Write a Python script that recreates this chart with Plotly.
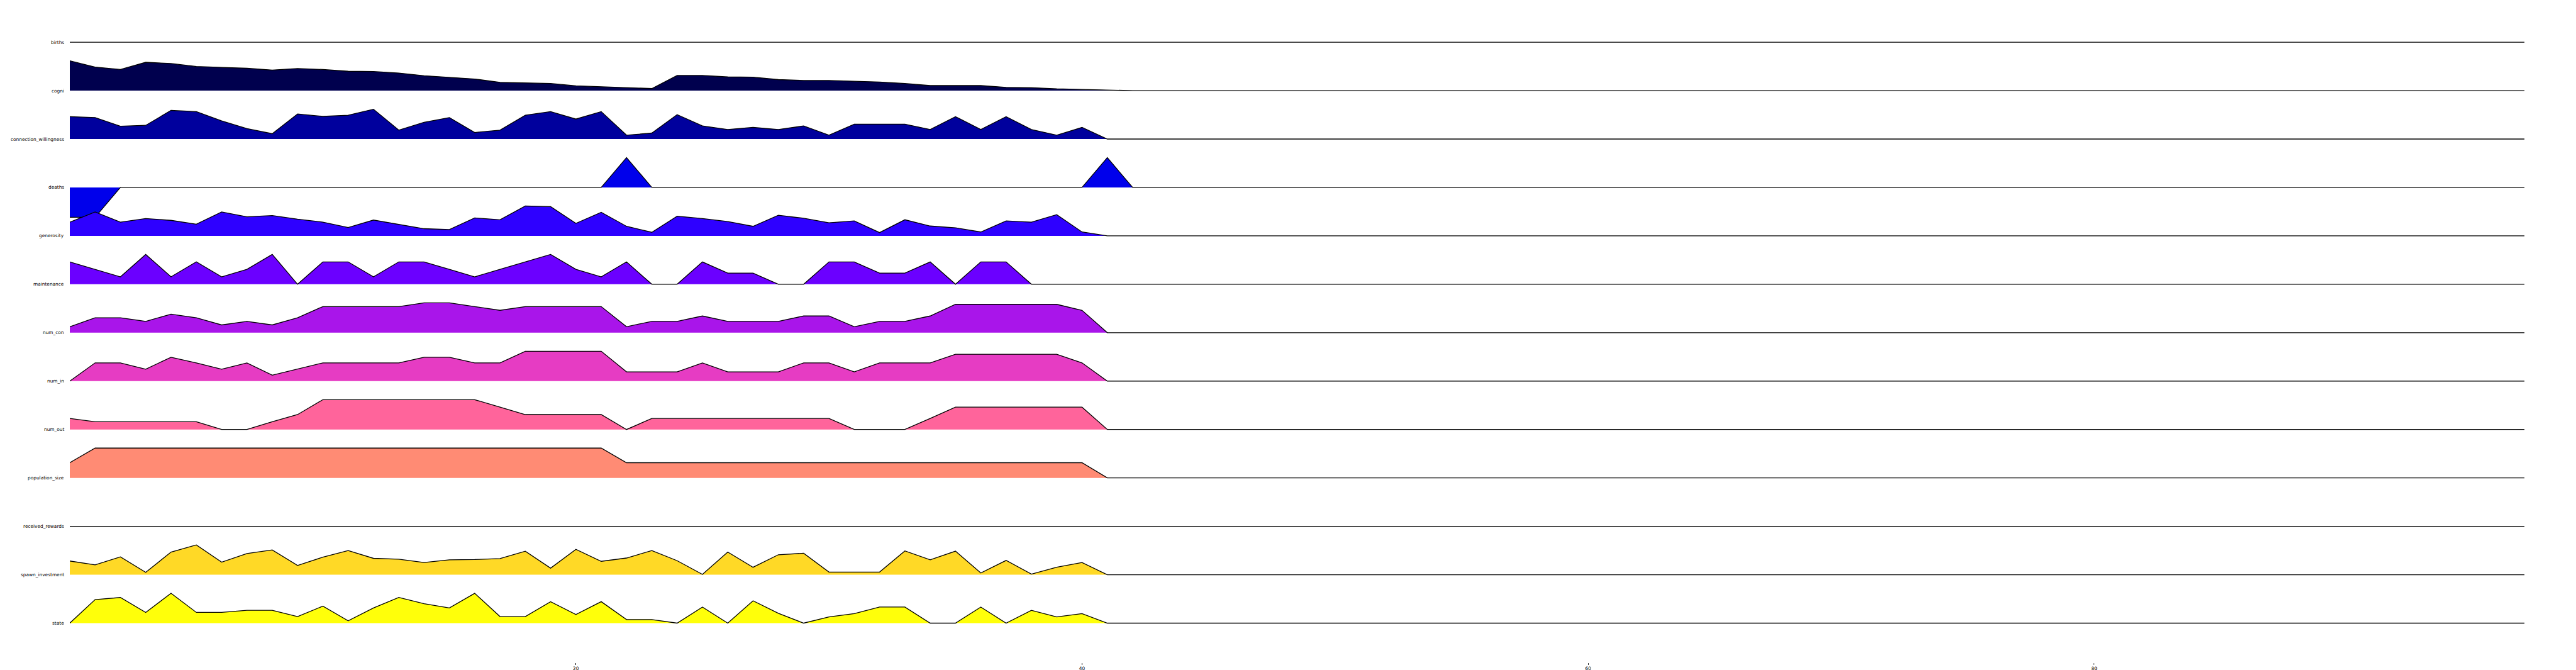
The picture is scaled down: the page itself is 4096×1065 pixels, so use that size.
import plotly.graph_objects as go

# ---------------- data (values normalised per row) ----------------
labels = ["births", "cogni", "connection_willingness", "deaths", "generosity",
          "maintenance", "num_con", "num_in", "num_out", "population_size",
          "received_rewards", "spawn_investment", "state"]

colors = ["#000000", "#00004e", "#00009d", "#0000eb", "#2e00ff", "#6b00ff",
          "#a915ea", "#e63cc3", "#ff649b", "#ff8b74", "#ffb24d", "#ffd926", "#ffff0a"]

n_steps = 98
steps = list(range(n_steps))
tick_vals = [20, 40, 60, 80]

births = [0.0] * 42

cogni = [1.00, 0.79, 0.71, 0.95, 0.91, 0.81, 0.78, 0.75, 0.69, 0.74, 0.71, 0.65, 0.64, 0.59,
         0.50, 0.44, 0.39, 0.28, 0.26, 0.24, 0.16, 0.13, 0.09, 0.07, 0.51, 0.51, 0.46, 0.45,
         0.37, 0.34, 0.34, 0.32, 0.29, 0.24, 0.17, 0.17, 0.17, 0.11, 0.10, 0.06, 0.04, 0.02]

connection_willingness = [0.75, 0.72, 0.43, 0.46, 0.96, 0.92, 0.61, 0.35, 0.18, 0.84, 0.76, 0.80, 1.00, 0.30,
                          0.56, 0.72, 0.22, 0.30, 0.80, 0.92, 0.67, 0.92, 0.13, 0.20, 0.82, 0.44, 0.32, 0.39,
                          0.32, 0.44, 0.13, 0.50, 0.50, 0.50, 0.32, 0.75, 0.32, 0.75, 0.32, 0.13, 0.39, 0.00]

deaths = [-1.0, -1.0, 0, 0, 0, 0, 0, 0, 0, 0, 0, 0, 0, 0,
          0, 0, 0, 0, 0, 0, 0, 0, 1.0, 0, 0, 0, 0, 0,
          0, 0, 0, 0, 0, 0, 0, 0, 0, 0, 0, 0, 0, 1.0]

generosity = [0.46, 0.80, 0.46, 0.58, 0.52, 0.39, 0.80, 0.64, 0.68, 0.56, 0.46, 0.28, 0.53, 0.39,
              0.24, 0.21, 0.60, 0.54, 1.00, 0.98, 0.42, 0.79, 0.32, 0.12, 0.66, 0.58, 0.48, 0.32,
              0.69, 0.59, 0.44, 0.50, 0.11, 0.54, 0.33, 0.27, 0.13, 0.50, 0.46, 0.71, 0.13, 0.00]

maintenance = [0.75, 0.50, 0.25, 1.00, 0.25, 0.75, 0.25, 0.50, 1.00, 0.00, 0.75, 0.75, 0.25, 0.75,
               0.75, 0.50, 0.25, 0.50, 0.75, 1.00, 0.50, 0.25, 0.75, 0.00, 0.00, 0.75, 0.375, 0.375,
               0.00, 0.00, 0.75, 0.75, 0.375, 0.375, 0.75, 0.00, 0.75, 0.75, 0.00, 0.00, 0.00, 0.00]

num_con = [0.20, 0.50, 0.50, 0.38, 0.62, 0.50, 0.26, 0.38, 0.26, 0.50, 0.875, 0.875, 0.875, 0.875,
           1.00, 1.00, 0.875, 0.75, 0.875, 0.875, 0.875, 0.875, 0.20, 0.38, 0.38, 0.56, 0.38, 0.38,
           0.38, 0.56, 0.56, 0.20, 0.38, 0.38, 0.56, 0.95, 0.95, 0.95, 0.95, 0.95, 0.75, 0.00]

num_in = [0.00, 0.61, 0.61, 0.40, 0.80, 0.61, 0.40, 0.61, 0.20, 0.40, 0.61, 0.61, 0.61, 0.61,
          0.80, 0.80, 0.61, 0.61, 1.00, 1.00, 1.00, 1.00, 0.31, 0.31, 0.31, 0.61, 0.31, 0.31,
          0.31, 0.61, 0.61, 0.31, 0.61, 0.61, 0.61, 0.90, 0.90, 0.90, 0.90, 0.90, 0.61, 0.00]

num_out = [0.37, 0.26, 0.26, 0.26, 0.26, 0.26, 0.00, 0.00, 0.26, 0.50, 1.00, 1.00, 1.00, 1.00,
           1.00, 1.00, 1.00, 0.75, 0.50, 0.50, 0.50, 0.50, 0.00, 0.37, 0.37, 0.37, 0.37, 0.37,
           0.37, 0.37, 0.37, 0.00, 0.00, 0.00, 0.37, 0.75, 0.75, 0.75, 0.75, 0.75, 0.75, 0.00]

population_size = [0.51, 1.00, 1.00, 1.00, 1.00, 1.00, 1.00, 1.00, 1.00, 1.00, 1.00, 1.00, 1.00, 1.00,
                   1.00, 1.00, 1.00, 1.00, 1.00, 1.00, 1.00, 1.00, 0.51, 0.51, 0.51, 0.51, 0.51, 0.51,
                   0.51, 0.51, 0.51, 0.51, 0.51, 0.51, 0.51, 0.51, 0.51, 0.51, 0.51, 0.51, 0.51, 0.00]

received_rewards = [0.0] * 42

spawn_investment = [0.46, 0.33, 0.60, 0.08, 0.76, 1.00, 0.42, 0.71, 0.83, 0.31, 0.59, 0.81, 0.55, 0.52,
                    0.41, 0.50, 0.51, 0.54, 0.79, 0.22, 0.85, 0.45, 0.56, 0.81, 0.47, 0.01, 0.76, 0.25,
                    0.67, 0.72, 0.09, 0.09, 0.09, 0.80, 0.50, 0.79, 0.06, 0.48, 0.02, 0.25, 0.41, 0.00]

state = [0.00, 0.79, 0.86, 0.36, 1.00, 0.36, 0.36, 0.43, 0.43, 0.22, 0.57, 0.08, 0.51, 0.86,
         0.65, 0.51, 1.00, 0.22, 0.22, 0.72, 0.29, 0.72, 0.12, 0.12, 0.00, 0.54, 0.00, 0.75,
         0.33, 0.00, 0.21, 0.32, 0.54, 0.54, 0.00, 0.00, 0.54, 0.00, 0.43, 0.21, 0.32, 0.00]

series = [births, cogni, connection_willingness, deaths, generosity, maintenance, num_con,
          num_in, num_out, population_size, received_rewards, spawn_investment, state]

# ---------------- figure ----------------
W, H = 4096, 1065
ML, MR, MT, MB = 103, 90, 0, 20
AMP = 0.616          # height of a normalised 1.0 in row units
ROW_PX = 76.95       # pixel distance between rows
LAST_BASE_PX = 982.5 # pixel y of the bottom row baseline

plot_h = H - MT - MB
y_top = (LAST_BASE_PX - MT) / ROW_PX
y_bot = -(MT + plot_h - LAST_BASE_PX) / ROW_PX

fig = go.Figure()
n = len(labels)
font = dict(family="DejaVu Sans", size=7.4, color="#000000")
annotations = []
for k, (name, vals, col) in enumerate(zip(labels, series, colors)):
    base = n - 1 - k
    full = list(vals) + [0.0] * (n_steps - len(vals))
    ytop = [base + v * AMP for v in full]
    fig.add_trace(go.Scatter(
        x=steps + steps[::-1], y=ytop + [base] * n_steps,
        fill="toself", fillcolor=col, mode="lines", line=dict(width=0, color=col),
        hoverinfo="skip", showlegend=False))
    fig.add_trace(go.Scatter(
        x=steps, y=ytop, mode="lines", line=dict(color="black", width=1.3),
        name=name, showlegend=False))
    annotations.append(dict(
        x=-8.2 / (W - ML - MR), xref="paper", y=base, yref="y",
        text=name, showarrow=False, xanchor="right", yanchor="middle",
        font=font, borderpad=0))

fig.update_layout(
    width=W, height=H,
    margin=dict(l=ML, r=MR, t=MT, b=MB, pad=0),
    paper_bgcolor="white", plot_bgcolor="white",
    annotations=annotations,
    xaxis=dict(range=[0, n_steps - 1], tickvals=tick_vals, ticktext=[str(t) for t in tick_vals],
               ticks="outside", ticklen=2.5, tickwidth=0.6, tickcolor="black",
               tickfont=font, showgrid=False, zeroline=False, showline=False),
    yaxis=dict(range=[y_bot, y_top], showticklabels=False, ticks="",
               showgrid=False, zeroline=False, showline=False),
)

fig.write_html("out.html")
